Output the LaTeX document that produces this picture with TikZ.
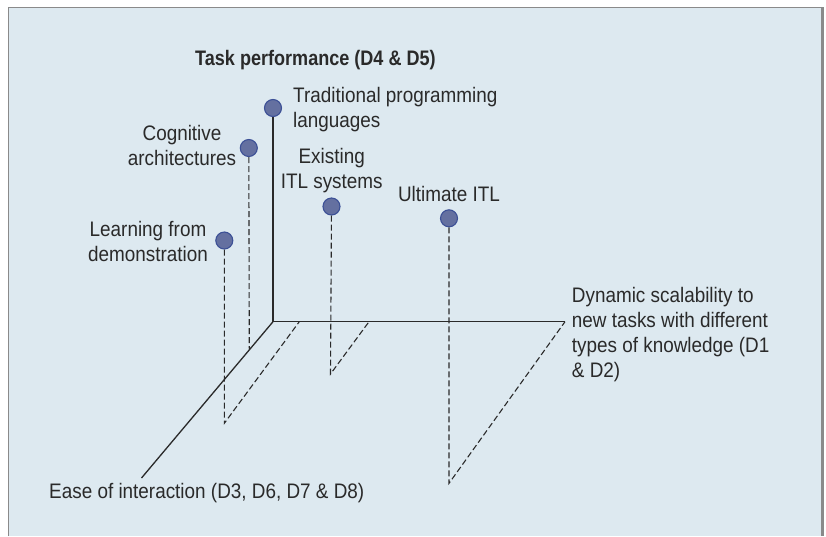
\documentclass[tikz,border=0pt]{standalone}
\usepackage{fontspec}
\setmainfont[FakeStretch=0.9]{Liberation Sans}
\newfontfamily\titlefont[FakeStretch=0.86]{Liberation Sans}
\definecolor{panel}{HTML}{DDE9F0}
\definecolor{frameline}{HTML}{8A8A8A}
\definecolor{ink}{HTML}{2A2A2A}
\definecolor{dotfill}{HTML}{6470A0}
\definecolor{dotedge}{HTML}{3C5096}
\tikzset{
  axis/.style={draw=ink, line width=1.3pt},
  guide/.style={draw=ink, line width=1.1pt, dash pattern=on 6pt off 3pt},
  dot/.style={circle, fill=dotfill, draw=dotedge, line width=1.1pt, minimum size=17pt, inner sep=0pt},
  lbl/.style={text=ink, inner sep=0pt, font=\fontsize{21}{25}\selectfont},
  ttl/.style={text=ink, inner sep=0pt, font=\titlefont\fontsize{21}{25}\selectfont\bfseries},
}
\begin{document}
\begin{tikzpicture}[x=1pt, y=-1pt]
\useasboundingbox (0,0) rectangle (826,536);
% page and panel
\fill[white] (0,0) rectangle (826,536);
\fill[panel] (8.5,7.5) rectangle (822,536);
\draw[frameline, line width=1pt] (8.5,536) -- (8.5,7.5) -- (822,7.5);
\draw[frameline, line width=2.2pt] (822.5,7) -- (822.5,536);

% axes
\coordinate (O) at (273,321.7);
\coordinate (xend) at (565,321.7);
\coordinate (zend) at (141.5,478);

% guide feet
\coordinate (lfdfoot) at (224.3,423.3);
\coordinate (lfdtip) at (299.3,321.7);
\coordinate (cogfoot) at (249.3,349.9);
\coordinate (exifoot) at (330.5,374);
\coordinate (exitip) at (369,321.7);
\coordinate (ultfoot) at (449,483.3);

% points
\node[dot] (trad) at (273,108) {};
\node[dot] (cog) at (248.8,148) {};
\node[dot] (exi) at (331.5,206.5) {};
\node[dot] (ult) at (449,218.3) {};
\node[dot] (lfd) at (224.3,240.5) {};

\draw[axis] (trad) -- (O) -- (xend);
\draw[axis] (O) -- (zend);

\draw[guide] (lfd) -- (lfdfoot) -- (lfdtip);
\draw[guide] (cog) -- (cogfoot);
\draw[guide] (exi) -- (exifoot) -- (exitip);
\draw[guide] (ult) -- (ultfoot) -- (xend);

% labels (multi-line nodes are placed by the baseline of their last line)
\node[ttl, anchor=base west] (title) at (195,65) {Task performance (D4 \& D5)};
\node[lbl, anchor=base west, align=left] (tradlbl) at (293,127.5) {Traditional programming\\languages};
\node[lbl, anchor=base, align=center] (coglbl) at (182,165.7) {Cognitive\\architectures};
\node[lbl, anchor=base, align=center] (exilbl) at (331.7,188.3) {Existing\\ITL systems};
\node[lbl, anchor=base] (ultlbl) at (449,201.7) {Ultimate ITL};
\node[lbl, anchor=base, align=center] (lfdlbl) at (148,261.7) {Learning from\\demonstration};
\node[lbl, anchor=base west, align=left] (xlbl) at (571.7,377.3) {Dynamic scalability to\\new tasks with different\\types of knowledge (D1\\\& D2)};
\node[lbl, anchor=base west] (zlbl) at (49,498.3) {Ease of interaction (D3, D6, D7 \& D8)};
\end{tikzpicture}
\end{document}
